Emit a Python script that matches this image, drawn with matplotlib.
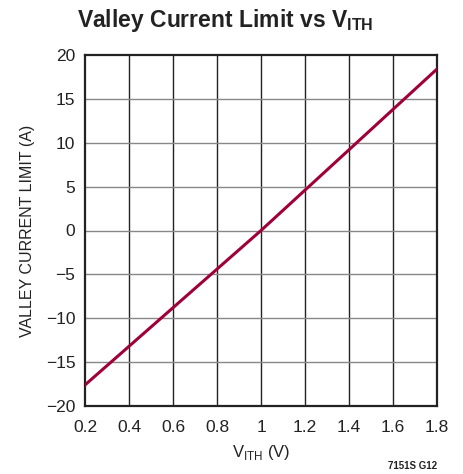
import matplotlib
matplotlib.use("Agg")
import matplotlib.pyplot as plt

font = 'Liberation Sans'
plt.rcParams['font.family'] = [font, 'DejaVu Sans']
plt.rcParams['mathtext.fontset'] = 'custom'
plt.rcParams['mathtext.rm'] = font
plt.rcParams['mathtext.bf'] = font + ':bold'
plt.rcParams['axes.unicode_minus'] = True

# data
v_ith = [0.2, 1.0, 1.8]
i_valley = [-17.6, 0.0, 18.4]
x_ticks = [0.2, 0.4, 0.6, 0.8, 1.0, 1.2, 1.4, 1.6, 1.8]
x_labels = ['0.2', '0.4', '0.6', '0.8', '1', '1.2', '1.4', '1.6', '1.8']
y_ticks = [-20, -15, -10, -5, 0, 5, 10, 15, 20]

fig = plt.figure(figsize=(4.63, 4.74), dpi=100)
ax = fig.add_axes([85 / 463, 1 - 406 / 474, 352 / 463, 351 / 474])

for x in x_ticks[1:-1]:
    ax.axvline(x, color='#222222', lw=1.0, zorder=1)
for y in y_ticks[1:-1]:
    ax.axhline(y, color='#888888', lw=1.0, zorder=1)

ax.plot(v_ith, i_valley, color='#a0003a', lw=2.2, zorder=3)

ax.set_xlim(0.2, 1.8)
ax.set_ylim(-20, 20)
ax.set_xticks(x_ticks)
ax.set_xticklabels(x_labels)
ax.set_yticks(y_ticks)
ax.set_yticklabels([str(t).replace('-', '\u2212') for t in y_ticks])
ax.tick_params(length=0, labelsize=12.5, colors='#222222')
ax.tick_params(axis='x', pad=10)
ax.tick_params(axis='y', pad=7)
for s in ax.spines.values():
    s.set_linewidth(1.6)
    s.set_color('#222222')

ax.set_xlabel(r'V$_{\mathrm{ITH}}$ (V)', fontsize=12, color='#222222', labelpad=6)
ax.set_ylabel('VALLEY CURRENT LIMIT (A)', fontsize=11.5, color='#222222', labelpad=8)

fig.text(225 / 463, 1 - 21 / 474, r'Valley Current Limit vs V$_{\mathbf{ITH}}$',
         ha='center', va='center', fontsize=16.5, fontweight='bold', color='#222222')
fig.text(437 / 463, 1 - 466 / 474, '7151S G12', ha='right', va='center',
         fontsize=7, fontweight='bold', color='#222222')

fig.savefig('out.png', dpi=100)
